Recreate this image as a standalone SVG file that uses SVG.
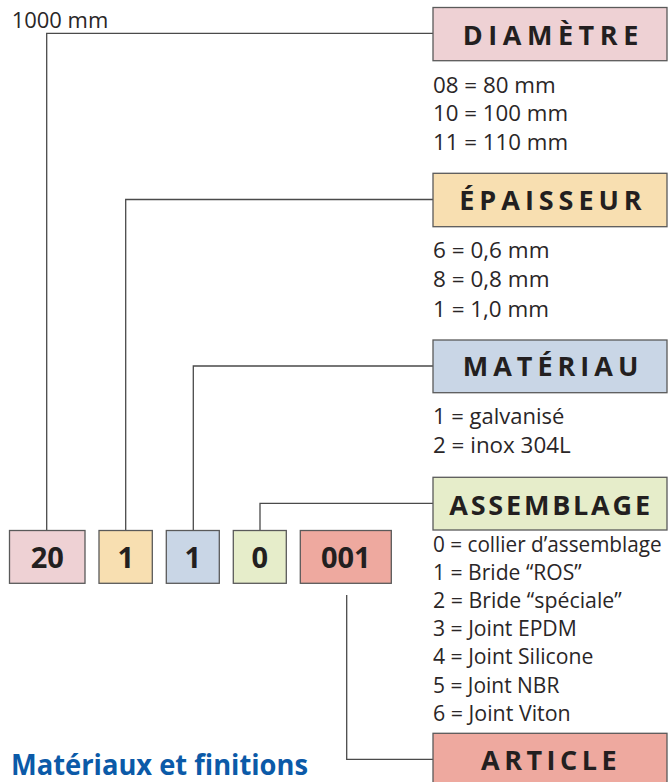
<svg xmlns="http://www.w3.org/2000/svg" width="668" height="782" viewBox="0 0 668 782">
<style>
.hbox{stroke:#5a5a5a;stroke-width:1.3}
.head{font-family:"Open Sans","Noto Sans",sans-serif;font-weight:700;font-size:27px;fill:#231f20}
.item{font-family:"Open Sans","Noto Sans",sans-serif;font-size:21px;fill:#2a2627}
.code{font-family:"Open Sans","Noto Sans",sans-serif;font-weight:700;font-size:29px;fill:#231f20;text-anchor:middle}
.conn{fill:none;stroke:#4a4a4a;stroke-width:1.3}
.title{font-family:"Open Sans","Noto Sans",sans-serif;font-weight:700;font-size:28px;fill:#0b5aa8}
</style>
<rect width="668" height="782" fill="#ffffff"/>
<g id="connectors">
<polyline class="conn" points="46.7,530.5 46.7,33.3 433,33.3"/>
<polyline class="conn" points="125.7,530.5 125.7,199.5 433,199.5"/>
<polyline class="conn" points="193.3,530.5 193.3,366 433,366"/>
<polyline class="conn" points="260,530.5 260,503.3 433,503.3"/>
<polyline class="conn" points="346.7,595 346.7,759.3 433,759.3"/>
</g>
<g id="label-1000">
<text class="item" x="11.7" y="28.3" textLength="96.6" lengthAdjust="spacingAndGlyphs">1000 mm</text>
</g>
<g id="diametre">
<rect class="hbox" x="433" y="7.5" width="234" height="53.2" fill="#eed1d4"/>
<text class="head" x="462.7" y="45" textLength="175.6" lengthAdjust="spacing">DIAMÈTRE</text>
<text class="item" x="433" y="92.5" textLength="122.7" lengthAdjust="spacingAndGlyphs">08 = 80 mm</text>
<text class="item" x="433" y="121.3" textLength="135" lengthAdjust="spacingAndGlyphs">10 = 100 mm</text>
<text class="item" x="433" y="150.2" textLength="135" lengthAdjust="spacingAndGlyphs">11 = 110 mm</text>
</g>
<g id="epaisseur">
<rect class="hbox" x="433" y="173.3" width="234" height="53.4" fill="#f8dfb1"/>
<text class="head" x="459.3" y="210" textLength="182.4" lengthAdjust="spacing">ÉPAISSEUR</text>
<text class="item" x="433" y="258.3" textLength="116.5" lengthAdjust="spacingAndGlyphs">6 = 0,6 mm</text>
<text class="item" x="433" y="287.3" textLength="116.5" lengthAdjust="spacingAndGlyphs">8 = 0,8 mm</text>
<text class="item" x="433" y="316.5" textLength="116" lengthAdjust="spacingAndGlyphs">1 = 1,0 mm</text>
</g>
<g id="materiau">
<rect class="hbox" x="433" y="340" width="234" height="52.7" fill="#c9d6e6"/>
<text class="head" x="462.7" y="375.7" textLength="175.6" lengthAdjust="spacing">MATÉRIAU</text>
<text class="item" x="433" y="424" textLength="131.3" lengthAdjust="spacingAndGlyphs">1 = galvanisé</text>
<text class="item" x="433" y="453.3" textLength="137.7" lengthAdjust="spacingAndGlyphs">2 = inox 304L</text>
</g>
<g id="assemblage">
<rect class="hbox" x="433" y="477.3" width="234" height="52.7" fill="#e6edca"/>
<text class="head" x="449.3" y="515" textLength="200.7" lengthAdjust="spacing">ASSEMBLAGE</text>
<text class="item" x="433" y="551.7" textLength="228.7" lengthAdjust="spacingAndGlyphs">0 = collier d’assemblage</text>
<text class="item" x="433" y="579.8" textLength="148.7" lengthAdjust="spacingAndGlyphs">1 = Bride “ROS”</text>
<text class="item" x="433" y="608" textLength="188.7" lengthAdjust="spacingAndGlyphs">2 = Bride “spéciale”</text>
<text class="item" x="433" y="636.2" textLength="143.7" lengthAdjust="spacingAndGlyphs">3 = Joint EPDM</text>
<text class="item" x="433" y="664.4" textLength="160.3" lengthAdjust="spacingAndGlyphs">4 = Joint Silicone</text>
<text class="item" x="433" y="692.6" textLength="126.3" lengthAdjust="spacingAndGlyphs">5 = Joint NBR</text>
<text class="item" x="433" y="720.8" textLength="137.7" lengthAdjust="spacingAndGlyphs">6 = Joint Viton</text>
</g>
<g id="article">
<rect class="hbox" x="433" y="733.3" width="234" height="53" fill="#eea99f"/>
<text class="head" x="481" y="770" textLength="135.7" lengthAdjust="spacing">ARTICLE</text>
</g>
<g id="code-20">
<rect class="hbox" x="9.5" y="530.5" width="75.5" height="52.8" fill="#eed1d4"/>
<text class="code" x="47.3" y="567.5">20</text>
</g>
<g id="code-1a">
<rect class="hbox" x="99" y="530.5" width="53.3" height="52.8" fill="#f8dfb1"/>
<text class="code" x="125.7" y="567.5">1</text>
</g>
<g id="code-1b">
<rect class="hbox" x="166.3" y="530.5" width="53" height="52.8" fill="#c9d6e6"/>
<text class="code" x="192.8" y="567.5">1</text>
</g>
<g id="code-0">
<rect class="hbox" x="233.3" y="530.5" width="53" height="52.8" fill="#e6edca"/>
<text class="code" x="259.8" y="567.5">0</text>
</g>
<g id="code-001">
<rect class="hbox" x="300.3" y="530.5" width="91" height="52.8" fill="#eea99f"/>
<text class="code" x="345.8" y="567.5">001</text>
</g>
<g id="title">
<text class="title" x="11" y="775" textLength="297" lengthAdjust="spacingAndGlyphs">Matériaux et finitions</text>
</g>
</svg>
